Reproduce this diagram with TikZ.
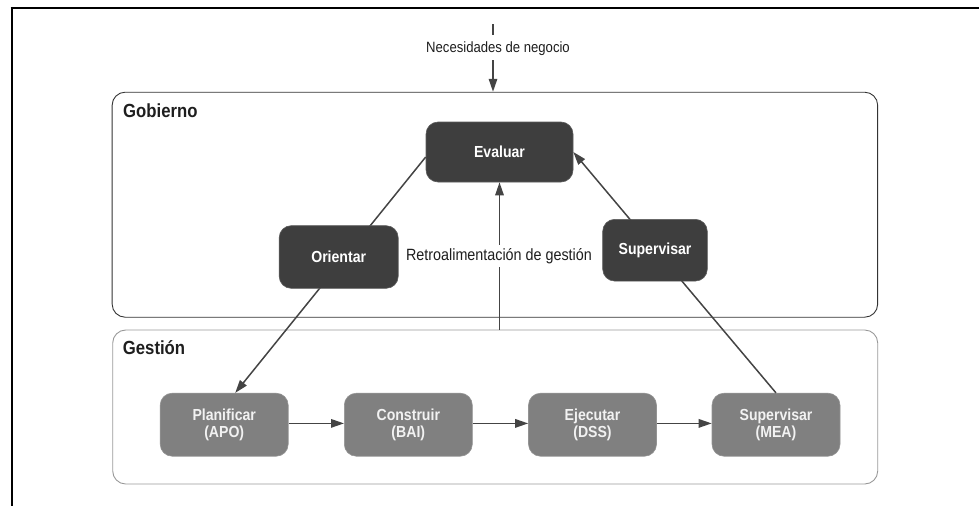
\documentclass[tikz,border=0pt]{standalone}
\usepackage{fontspec}
\setmainfont{Liberation Sans}[FakeStretch=0.88]
\usetikzlibrary{arrows.meta}
\definecolor{darkbox}{HTML}{3E3E3E}
\definecolor{midbox}{HTML}{808080}
\definecolor{linegray}{HTML}{444444}
\definecolor{labelink}{HTML}{1E1E1E}
\begin{document}
\begin{tikzpicture}[x=1pt,y=-1pt,
  govnode/.style={draw=darkbox!85!white, line width=0.6pt, fill=darkbox, rounded corners=12pt,
    inner sep=0pt, text=white, font=\fontsize{16}{17}\selectfont\bfseries},
  mgmtnode/.style={draw=midbox!85!white, line width=0.6pt, fill=midbox, rounded corners=12pt,
    inner sep=0pt, minimum width=128pt, minimum height=63pt, align=center, text=white!95!black,
    font=\fontsize{16}{17}\selectfont\bfseries},
  areabox/.style={rounded corners=13pt, inner sep=0pt, line width=0.9pt},
  areatitle/.style={anchor=base west, inner sep=0pt, text=labelink, font=\fontsize{19}{20}\selectfont\bfseries},
  plainlabel/.style={inner sep=0pt, text=labelink},
  conn/.style={draw=linegray, line width=1.5pt},
  flow/.style={conn, -{Triangle[length=13pt,width=8.5pt]}}
]
\useasboundingbox (0,0) rectangle (979,506);

% page frame
\draw[line width=2.6pt, black] (10.7,8) -- (979,8);
\draw[line width=2.4pt, black] (12,6.8) -- (12,506);

% areas
\node[areabox, draw=black!80, minimum width=765.5pt, minimum height=225pt] (gob) at (494.9,204.7) {};
\node[areabox, draw=black!40, minimum width=765pt, minimum height=154pt] (gest) at (495.2,407) {};
\node[areatitle] at (123,117) {Gobierno};
\node[areatitle] at (122.7,354) {Gestión};

% governance nodes
\node[govnode, minimum width=147pt, minimum height=60pt] (eval) at (499.5,152) {Evaluar};

% management nodes
\node[mgmtnode] (plan) at (224.2,424.7) {Planificar\\(APO)};
\node[mgmtnode] (cons) at (408.3,424.7) {Construir\\(BAI)};
\node[mgmtnode] (ejec) at (592.5,424.7) {Ejecutar\\(DSS)};
\node[mgmtnode] (mea)  at (776,424.7) {Supervisar\\(MEA)};

% business needs input
\node[plainlabel, anchor=base, font=\fontsize{14.9}{16}\selectfont] (need) at (498,52.7) {Necesidades de negocio};
\coordinate (needtop) at (493,24);
\coordinate (needmid) at (493,35);
\coordinate (needlow) at (493,60);
\draw[conn] (needtop) -- (needmid);
\draw[flow] (needlow) -- (needlow |- gob.north);

% direct and monitor lines
\draw[flow] ([yshift=-5pt]eval.west) -- ([xshift=11pt]plan.north);
\draw[flow] (mea.north) -- (eval.east);

% management feedback
\draw[flow] (eval.south |- gest.north) -- (eval.south);
\node[plainlabel, fill=white, inner ysep=3pt, font=\fontsize{16.3}{17}\selectfont] (retro) at (499,256) {Retroalimentación de gestión};

% process chain
\draw[flow] ([yshift=1.3pt]plan.east) -- ([yshift=1.3pt]cons.west);
\draw[flow] ([yshift=1.3pt]cons.east) -- ([yshift=1.3pt]ejec.west);
\draw[flow] ([yshift=1.3pt]ejec.east) -- ([yshift=1.3pt]mea.west);

% direct and monitor nodes on top of their lines
\node[govnode, minimum width=119pt, minimum height=62.6pt] (orient) at (338.7,257) {Orientar};
\node[govnode, minimum width=104.6pt, minimum height=61.7pt] (superv) at (655,250.2) {Supervisar};
\end{tikzpicture}
\end{document}
